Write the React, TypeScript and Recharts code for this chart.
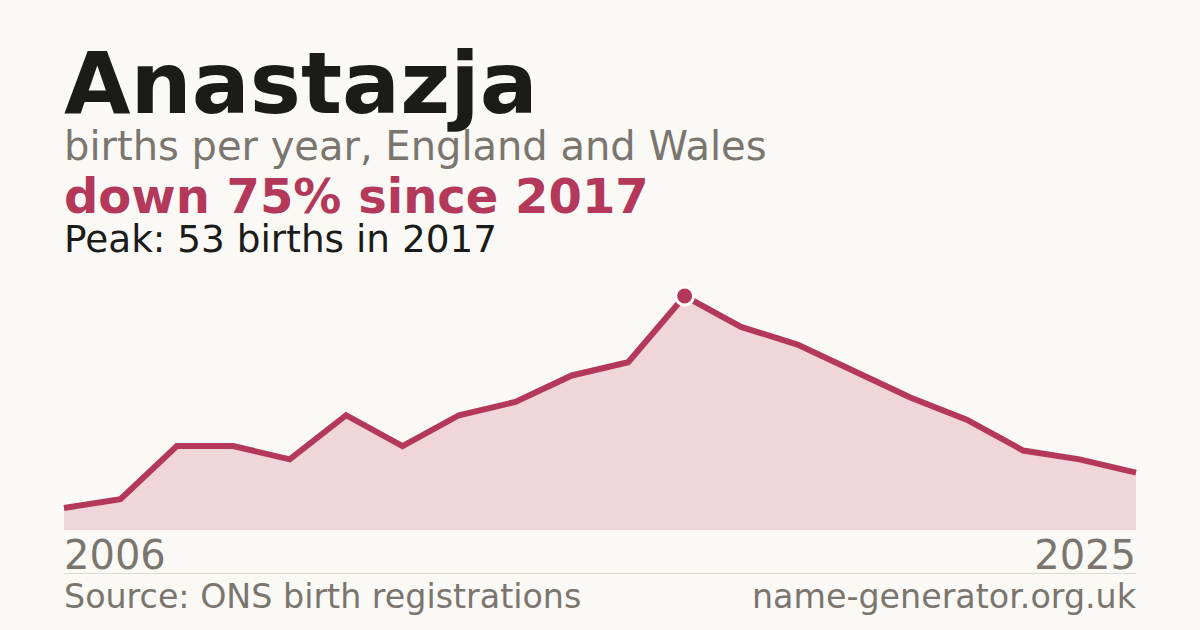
import { AreaChart, Area, XAxis, YAxis, ReferenceDot } from "recharts";

const years = [2006, 2007, 2008, 2009, 2010, 2011, 2012, 2013, 2014, 2015, 2016, 2017, 2018, 2019, 2020, 2021, 2022, 2023, 2024, 2025];
const births = [5, 7, 19, 19, 16, 26, 19, 26, 29, 35, 38, 53, 46, 42, 36, 30, 25, 18, 16, 13];
const edgeTicks = [2006, 2025];

const RED = "#b3385a";
const GREY = "#7a756e";
const FONT = "'DejaVu Sans', sans-serif";

const data = years.map((year, i) => ({ year, births: births[i] }));

function EdgeTick(props: any) {
  const { x, y, payload } = props;
  const first = payload.value === edgeTicks[0];
  return (
    <text x={x} y={y} dy={31} textAnchor={first ? "start" : "end"} fill={GREY} fontSize={40} fontFamily={FONT}>
      {payload.value}
    </text>
  );
}

const line = { position: "absolute" as const, left: 64, lineHeight: 0.8, whiteSpace: "nowrap" as const };

export default function App() {
  return (
    <div style={{ position: "absolute", left: 0, top: 0, width: 1200, height: 630, background: "#faf9f5", fontFamily: FONT, overflow: "hidden" }}>
      <div style={{ ...line, top: 49, fontSize: 86, fontWeight: 700, color: "#1b1b19" }}>Anastazja</div>
      <div style={{ ...line, top: 130, fontSize: 40, color: GREY }}>births per year, England and Wales</div>
      <div style={{ ...line, top: 177, fontSize: 48, fontWeight: 700, color: RED }}>down 75% since 2017</div>
      <div style={{ ...line, top: 225, fontSize: 37.4, color: "#1b1b19" }}>Peak: 53 births in 2017</div>

      <div style={{ position: "absolute", left: 0, top: 0 }}>
        <AreaChart width={1200} height={630} data={data} margin={{ top: 296, right: 64, bottom: 40, left: 64 }}>
          <XAxis dataKey="year" type="number" domain={[2006, 2025]} ticks={edgeTicks} tickLine={false} axisLine={false} height={60} tick={<EdgeTick />} interval={0} />
          <YAxis hide domain={[0, 53]} />
          <Area type="linear" dataKey="births" stroke={RED} strokeWidth={6} fill="#f0d5da" fillOpacity={1} isAnimationActive={false} dot={false} activeDot={false} />
          <ReferenceDot x={2017} y={53} r={9} fill={RED} stroke="#ffffff" strokeWidth={3} />
        </AreaChart>
      </div>

      <div style={{ position: "absolute", left: 64, top: 573, width: 1072, height: 1, background: "#dedbd4" }} />
      <div style={{ ...line, top: 584, fontSize: 33.3, color: GREY }}>Source: ONS birth registrations</div>
      <div style={{ ...line, left: undefined, right: 64, top: 584, fontSize: 33.3, color: GREY }}>name-generator.org.uk</div>
    </div>
  );
}
